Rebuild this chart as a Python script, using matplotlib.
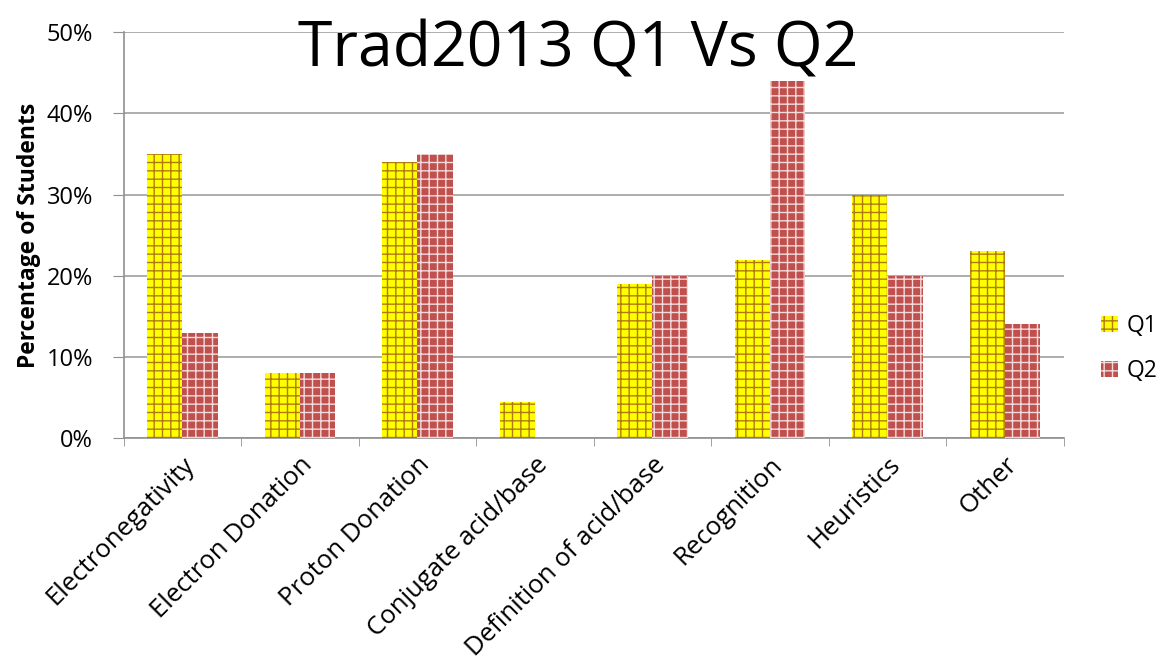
import matplotlib.pyplot as plt
import numpy as np
from matplotlib.ticker import PercentFormatter

plt.rcParams['font.family'] = ['Open Sans', 'DejaVu Sans']
plt.rcParams['hatch.linewidth'] = 1.0

categories = ['Electronegativity', 'Electron Donation', 'Proton Donation',
              'Conjugate acid/base', 'Definition of acid/base', 'Recognition',
              'Heuristics', 'Other']
q1 = [35, 8, 34, 4.5, 19, 22, 30, 23]
q2 = [13, 8, 35, 0, 20, 44, 20, 14]

fig = plt.figure(figsize=(11.56, 6.70), dpi=100)
ax = fig.add_axes([0.107, 0.346, 0.813, 0.606])

x = np.arange(len(categories))
w = 0.3
ax.bar(x - w / 2, q1, w, color='#FFFF00', edgecolor='#B07A10', linewidth=0,
       hatch='++', label='Q1', zorder=3)
ax.bar(x + w / 2, q2, w, color='#C0504D', edgecolor='#F2DCDB', linewidth=0,
       hatch='++', label='Q2', zorder=3)

ax.set_xlim(-0.5, len(categories) - 0.5)
ax.set_ylim(0, 50)
ax.set_yticks(range(0, 51, 10))
ax.yaxis.set_major_formatter(PercentFormatter(decimals=0))
ax.grid(axis='y', color='#a0a0a0', linewidth=1.2, zorder=0)

ax.set_xticks(x)
ax.set_xticklabels(categories, rotation=45, ha='right', rotation_mode='anchor',
                   fontsize=18.5)
ax.set_xticks(np.arange(-0.5, len(categories)), minor=True)
ax.tick_params(axis='x', which='major', length=0, pad=10)
ax.tick_params(axis='x', which='minor', length=6, color='#909090')
ax.tick_params(axis='y', labelsize=17, length=8, color='#909090', pad=14)

for s in ['top', 'right']:
    ax.spines[s].set_visible(False)
for s in ['left', 'bottom']:
    ax.spines[s].set_color('#909090')
    ax.spines[s].set_linewidth(1.2)

ax.set_ylabel('Percentage of Students', fontsize=16.5, fontweight='bold', labelpad=4)
fig.text(0.5, 0.925, 'Trad2013 Q1 Vs Q2', ha='center', va='center', fontsize=45)

fig.legend(loc='center left', bbox_to_anchor=(0.935, 0.48), frameon=False,
           fontsize=16.5, handlelength=0.7, handleheight=0.7, handletextpad=0.4,
           labelspacing=0.9)

fig.savefig('out.png', dpi=100)
